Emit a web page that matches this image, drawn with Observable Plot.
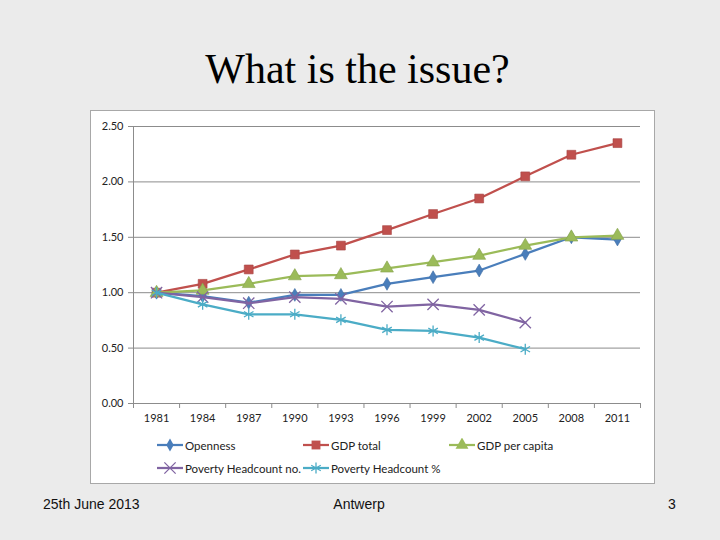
<!DOCTYPE html>
<html>
<head>
<meta charset="utf-8">
<script src="https://cdn.jsdelivr.net/npm/d3@7"></script>
<script src="https://cdn.jsdelivr.net/npm/@observablehq/plot@0.6"></script>
<style>
  html, body { margin: 0; padding: 0; }
  body { width: 720px; height: 540px; background: #ebebeb; position: relative; overflow: hidden; }
  #title { position: absolute; left: 0; width: 715px; top: 48px; text-align: center;
           font: 42px "Liberation Serif", "Times New Roman", serif; line-height: 42px; color: #000; }
  #panel { position: absolute; left: 90px; top: 110px; width: 565px; height: 374px; box-sizing: border-box;
           background: #fff; border: 1.5px solid #a8a8a8; }
  #chart { position: absolute; left: 91px; top: 111px; }
  .leg { position: absolute; height: 14px; display: flex; align-items: center;
         font: 11.5px Lato, "Open Sans", sans-serif; color: #222; white-space: nowrap; }
  .leg svg { margin-right: 2px; }
  .foot { position: absolute; top: 495px; font: 14px "Liberation Sans", Arial, sans-serif; color: #111; line-height: 18px; }
</style>
</head>
<body>
<div id="title">What is the issue?</div>
<div id="panel"></div>
<div id="chart"></div>
<div id="legend"></div>
<div class="foot" style="left:43px">25th June 2013</div>
<div class="foot" style="left:309px;width:100px;text-align:center">Antwerp</div>
<div class="foot" style="left:668px">3</div>
<script>
// ---- data ----
const years = [1981, 1984, 1987, 1990, 1993, 1996, 1999, 2002, 2005, 2008, 2011];
const openness     = [1.00, 0.97, 0.91, 0.98, 0.98, 1.08, 1.14, 1.20, 1.35, 1.50, 1.48];
const gdpTotal     = [1.00, 1.08, 1.21, 1.345, 1.425, 1.565, 1.71, 1.85, 2.05, 2.245, 2.35];
const gdpPerCapita = [1.00, 1.02, 1.08, 1.15, 1.16, 1.22, 1.275, 1.335, 1.425, 1.50, 1.515];
const povertyNo    = [1.00, 0.96, 0.905, 0.96, 0.945, 0.875, 0.895, 0.845, 0.73];
const povertyPct   = [1.00, 0.895, 0.805, 0.805, 0.755, 0.665, 0.655, 0.595, 0.49];
const seriesNames  = ["Openness", "GDP total", "GDP per capita", "Poverty Headcount no.", "Poverty Headcount %"];
const yTicks = [0, 0.5, 1, 1.5, 2, 2.5];

const seriesStyles = [
  {color: "#4A7EBB", symbol: "diamond",  filled: true,  r: 3.9},
  {color: "#C0504D", symbol: "square",   filled: true,  r: 5.0},
  {color: "#9BBB59", symbol: "triangle", filled: true,  r: 4.8},
  {color: "#8064A2", symbol: "times",    filled: false, r: 5.2},
  {color: "#4BACC6", symbol: "asterisk", filled: false, r: 5.2}
];
const seriesValues = [openness, gdpTotal, gdpPerCapita, povertyNo, povertyPct];

const rows = seriesNames.flatMap((name, k) =>
  seriesValues[k].map((v, i) => ({series: name, year: years[i], value: v})));

const step = years[1] - years[0];
const xMin = years[0] - step / 2, xMax = years[years.length - 1] + step / 2;
const boundaries = years.map(y => y - step / 2).concat([xMax]);

const grey = "#8c8c8c";
const font = "Lato, 'Open Sans', sans-serif";
const marks = [
  Plot.gridY({ticks: yTicks, stroke: grey, strokeOpacity: 1, strokeWidth: 1}),
  Plot.ruleX([xMin], {stroke: grey, strokeWidth: 1}),
  Plot.axisY({ticks: yTicks, tickFormat: ".2f", tickSize: 5, tickPadding: 5, stroke: grey, label: null,
              fill: "#222", fontSize: 11, fontFamily: font}),
  Plot.axisX({ticks: boundaries, tickSize: 5, tickFormat: () => "", stroke: grey, label: null}),
  Plot.axisX({ticks: years, tickSize: 0, tickPadding: 11, tickFormat: d => String(d), label: null,
              fill: "#222", fontSize: 11, fontFamily: font})
];
seriesNames.forEach((name, k) => {
  const s = seriesStyles[k];
  const data = rows.filter(d => d.series === name);
  marks.push(Plot.line(data, {x: "year", y: "value", stroke: s.color, strokeWidth: 2.25}));
  marks.push(Plot.dot(data, s.filled
    ? {x: "year", y: "value", symbol: s.symbol, r: s.r, fill: s.color, stroke: d3.color(s.color).darker(0.4).formatHex(), strokeWidth: 0.6}
    : {x: "year", y: "value", symbol: s.symbol, r: s.r, stroke: s.color, strokeWidth: 1.3}));
});

const chart = Plot.plot({
  width: 564, height: 320,
  marginLeft: 42, marginRight: 15, marginTop: 15, marginBottom: 28,
  style: {background: "transparent", overflow: "visible"},
  x: {type: "linear", domain: [xMin, xMax], axis: null, label: null},
  y: {domain: [0, 2.5], axis: null, label: null},
  marks
});
document.getElementById("chart").appendChild(chart);

// ---- legend ----
const legendPos = [[157, 438], [303, 438], [449, 438], [157, 461], [303, 461]];
const legend = document.getElementById("legend");
seriesNames.forEach((name, k) => {
  const s = seriesStyles[k];
  const div = document.createElement("div");
  div.className = "leg";
  div.style.left = legendPos[k][0] + "px";
  div.style.top = legendPos[k][1] + "px";
  const svg = d3.create("svg").attr("width", 26).attr("height", 14);
  svg.append("line").attr("x1", 0).attr("x2", 26).attr("y1", 7).attr("y2", 7)
     .attr("stroke", s.color).attr("stroke-width", 2.25);
  const symMap = {diamond: d3.symbolDiamond, square: d3.symbolSquare, triangle: d3.symbolTriangle,
                  times: d3.symbolTimes, asterisk: d3.symbolAsterisk};
  const path = d3.symbol(symMap[s.symbol], Math.PI * s.r * s.r)();
  const p = svg.append("path").attr("d", path).attr("transform", "translate(13,7)");
  if (s.filled) p.attr("fill", s.color); else p.attr("fill", "none").attr("stroke", s.color).attr("stroke-width", 1.3);
  div.appendChild(svg.node());
  const span = document.createElement("span");
  span.textContent = name;
  div.appendChild(span);
  legend.appendChild(div);
});
</script>
</body>
</html>
